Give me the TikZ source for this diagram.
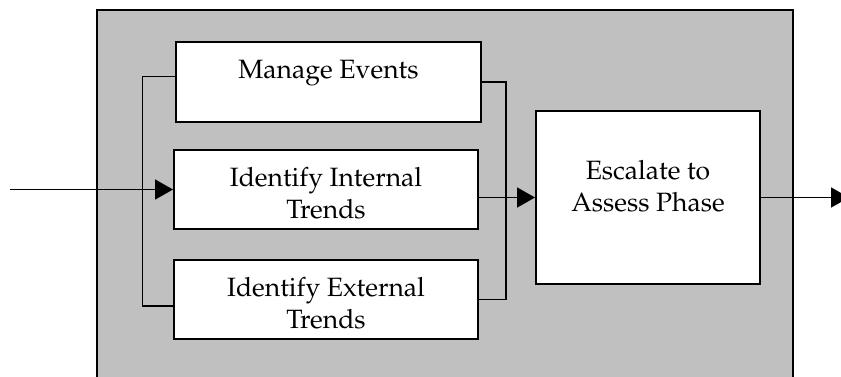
\documentclass[tikz,border=0pt]{standalone}
\usepackage[T1]{fontenc}
\renewcommand\rmdefault{ppl}
\usetikzlibrary{arrows.meta}
\definecolor{panelgray}{RGB}{192,192,192}
\tikzset{
  box/.style={draw=black, fill=white, line width=2pt, rectangle, inner sep=0pt},
  lbl/.style={font=\fontsize{26.5}{32}\selectfont, align=center, inner sep=0pt},
  conn/.style={draw=black, line width=1.8pt},
  arr/.style={conn, -{Triangle[length=18pt,width=20pt]}}
}
\begin{document}
\begin{tikzpicture}[x=1pt,y=-1pt]
\useasboundingbox (0,0) rectangle (841,376);
% panel
\fill[panelgray] (97,10) rectangle (793,377);
\draw[line width=1.8pt] (97,377) -- (97,10) -- (793,10) -- (793,377);
% boxes
\node[box, minimum width=305pt, minimum height=80pt] (me) at (328.5,82) {};
\node[box, minimum width=304pt, minimum height=79pt] (ii) at (326,189.5) {};
\node[box, minimum width=304pt, minimum height=79pt] (ie) at (326,299.5) {};
\node[box, minimum width=224pt, minimum height=173pt] (esc) at (648,197.5) {};
% labels
\node[lbl, anchor=base] (tme) at (328.5,78) {Manage Events};
\node[lbl] (tii) at (326,193.2) {Identify Internal\\Trends};
\node[lbl] (tie) at (326,303.2) {Identify External\\Trends};
\node[lbl] (tesc) at (648,186.3) {Escalate to\\Assess Phase};
% coordinates
\coordinate (in) at (10,189.5);
\coordinate (lb) at (142.5,0);
\coordinate (rb) at (506,0);
\coordinate (out) at (849,197.5);
% connectors
\draw[arr] (in) -- (ii.west);
\draw[conn] ([yshift=5.5pt]me.west) -- ([yshift=5.5pt]me.west -| lb) -- ([yshift=-6.5pt]ie.west -| lb) -- ([yshift=-6.5pt]ie.west);
\draw[conn] (me.east) -- (me.east -| rb) -- (ie.east -| rb) -- (ie.east);
\draw[arr] (esc.west -| ii.east) -- (esc.west);
\draw[arr] (esc.east) -- (out);
\end{tikzpicture}
\end{document}
